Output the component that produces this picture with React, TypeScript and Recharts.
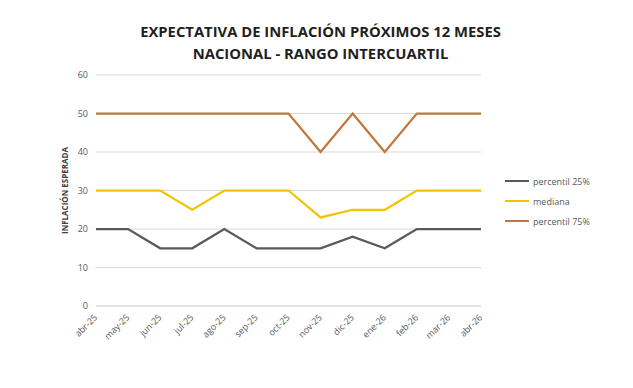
import React from 'react';
import { LineChart, Line, XAxis, YAxis, CartesianGrid, Legend, Label } from 'recharts';

const months = ['abr-25', 'may-25', 'jun-25', 'jul-25', 'ago-25', 'sep-25', 'oct-25', 'nov-25', 'dic-25', 'ene-26', 'feb-26', 'mar-26', 'abr-26'];
const p25 = [20, 20, 15, 15, 20, 15, 15, 15, 18, 15, 20, 20, 20];
const mediana = [30, 30, 30, 25, 30, 30, 30, 23, 25, 25, 30, 30, 30];
const p75 = [50, 50, 50, 50, 50, 50, 50, 40, 50, 40, 50, 50, 50];
const yTicks = [0, 10, 20, 30, 40, 50, 60];

const series = [
  { key: 'p25', name: 'percentil 25%', color: '#595959' },
  { key: 'mediana', name: 'mediana', color: '#F2C500' },
  { key: 'p75', name: 'percentil 75%', color: '#C0783C' },
];

const data = months.map((m, i) => ({ month: m, p25: p25[i], mediana: mediana[i], p75: p75[i] }));

const FONT = '"Open Sans", sans-serif';

const LegendContent = () => (
  <div style={{ fontFamily: FONT, fontSize: 9, color: '#595959' }}>
    {series.map((s) => (
      <div key={s.key} style={{ display: 'flex', alignItems: 'center', height: 20 }}>
        <span style={{ display: 'inline-block', width: 24, height: 2, background: s.color, marginRight: 4 }} />
        <span>{s.name}</span>
      </div>
    ))}
  </div>
);

const XTick = ({ x, y, payload }: any) => (
  <text
    x={x + 2}
    y={y + 4}
    textAnchor="end"
    transform={`rotate(-45, ${x + 2}, ${y + 4})`}
    fill="#595959"
    fontSize={9}
    fontFamily={FONT}
  >
    {payload.value}
  </text>
);

export default function App() {
  return (
    <div style={{ position: 'absolute', left: 0, top: 0, width: 633, height: 388, background: '#fff' }}>
      <div
        style={{
          position: 'absolute', left: 4, top: 20, width: 633, textAlign: 'center',
          fontFamily: FONT, fontWeight: 700, fontSize: 14.8, lineHeight: '22px', color: '#1f1f1f',
        }}
      >
        <div>EXPECTATIVA DE INFLACIÓN PRÓXIMOS 12 MESES</div>
        <div>NACIONAL - RANGO INTERCUARTIL</div>
      </div>
      <LineChart width={633} height={388} data={data} margin={{ top: 75, right: 152, left: 5, bottom: 0 }}>
        <CartesianGrid vertical={false} stroke="#D9D9D9" />
        <XAxis
          dataKey="month"
          axisLine={{ stroke: '#D9D9D9' }}
          tickLine={false}
          interval={0}
          height={82}
          tick={<XTick />}
        />
        <YAxis
          domain={[0, 60]}
          ticks={yTicks}
          width={91}
          axisLine={false}
          tickLine={false}
          tick={{ fill: '#595959', fontSize: 9, fontFamily: FONT }}
        >
          <Label
            value="INFLACIÓN ESPERADA"
            angle={-90}
            position="insideLeft"
            offset={60}
            style={{ fontSize: 8, fontWeight: 700, fill: '#404040', fontFamily: FONT, textAnchor: 'middle' }}
          />
        </YAxis>
        <Legend
          layout="horizontal"
          verticalAlign="middle"
          align="center"
          content={<LegendContent />}
          wrapperStyle={{ left: 505, top: 171, width: 110 }}
        />
        {series.map((s) => (
          <Line
            key={s.key}
            dataKey={s.key}
            name={s.name}
            stroke={s.color}
            strokeWidth={2.25}
            dot={false}
            isAnimationActive={false}
          />
        ))}
      </LineChart>
    </div>
  );
}
